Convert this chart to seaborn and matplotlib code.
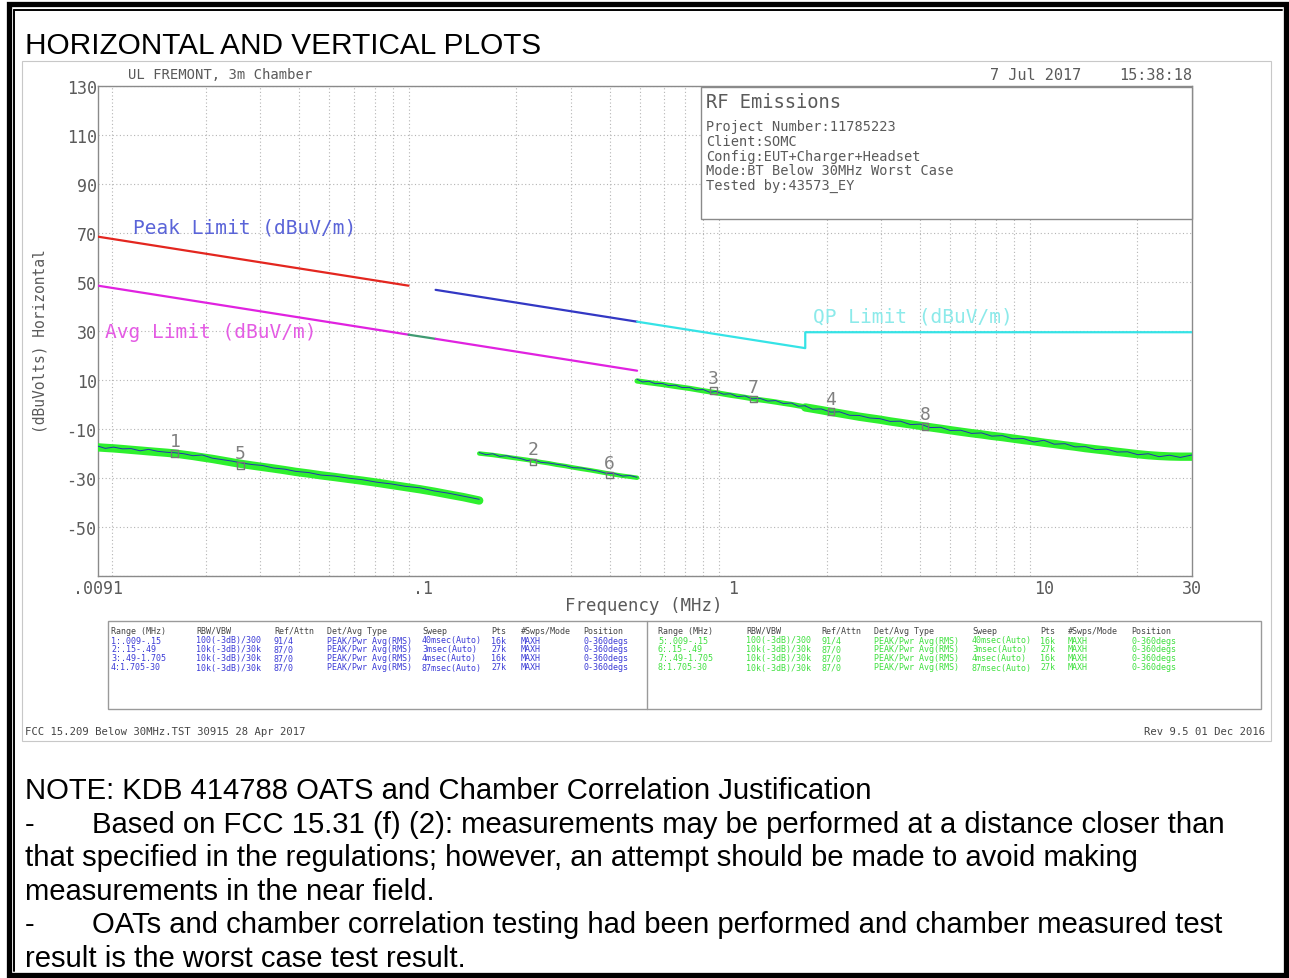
import matplotlib
matplotlib.use("Agg")
import matplotlib.pyplot as plt
import seaborn as sns
import pandas as pd
from matplotlib.patches import Rectangle
from matplotlib.lines import Line2D

# ---------------- data ----------------
# limit lines (MHz, dBuV/m)
peak_red_f = [0.009, 0.09]
peak_red_db = [68.5, 48.5]
peak_blue_f = [0.11, 0.49]
peak_blue_db = [46.8, 33.8]
avg1_f = [0.009, 0.09]
avg1_db = [48.5, 28.5]
qp_gap_f = [0.09, 0.11]
qp_gap_db = [28.5, 26.8]
avg2_f = [0.11, 0.49]
avg2_db = [26.8, 13.8]
qp_f = [0.49, 1.705, 1.705, 30.0]
qp_db = [33.8, 23.0, 29.5, 29.5]

# measured traces (green band, blue trace)
seg1_f = [0.009, 0.0095, 0.0101, 0.0108, 0.0115, 0.0123, 0.0131, 0.014, 0.015, 0.0159,
          0.017, 0.0182, 0.0195, 0.021, 0.0226, 0.0243, 0.0262, 0.0282, 0.0305, 0.033,
          0.036, 0.039, 0.043, 0.047, 0.052, 0.058, 0.064, 0.071, 0.079, 0.088,
          0.098, 0.109, 0.121, 0.135, 0.152]
seg1_green = [-17.5, -17.7, -17.9, -18.2, -18.5, -18.8, -19.1, -19.4, -19.7, -20.0,
              -20.5, -21.0, -21.6, -22.2, -22.9, -23.6, -24.3, -24.9, -25.5, -26.1,
              -26.8, -27.5, -28.2, -28.9, -29.6, -30.4, -31.1, -31.9, -32.8, -33.7,
              -34.6, -35.6, -36.7, -37.8, -39.2]
seg1_blue = [-17.0, -17.9, -17.4, -18.1, -18.0, -18.9, -18.3, -19.1, -19.5, -19.7,
             -20.1, -20.9, -20.6, -21.9, -22.5, -23.1, -23.9, -24.5, -24.9, -25.9,
             -26.4, -27.3, -27.8, -28.8, -29.2, -30.1, -30.7, -31.7, -32.4, -33.4,
             -34.0, -35.3, -36.2, -37.4, -38.7]

seg2_f = [0.152, 0.16, 0.168, 0.177, 0.186, 0.196, 0.206, 0.217, 0.2265, 0.24, 0.255,
          0.27, 0.287, 0.305, 0.325, 0.345, 0.367, 0.39, 0.415, 0.44, 0.465, 0.49]
seg2_green = [-20.0, -20.3, -20.6, -21.0, -21.4, -21.8, -22.2, -22.6, -23.0, -23.5, -24.0,
              -24.6, -25.1, -25.7, -26.3, -26.8, -27.4, -28.0, -28.6, -29.1, -29.5, -29.9]
seg2_blue = [-19.6, -20.5, -20.1, -21.2, -20.9, -21.6, -22.0, -22.9, -22.5, -23.6, -23.9,
             -24.4, -24.9, -25.8, -25.9, -26.6, -27.2, -28.1, -28.2, -29.2, -29.0, -29.7]

seg3_f = [0.49, 0.51, 0.535, 0.56, 0.59, 0.62, 0.65, 0.685, 0.72, 0.76, 0.8, 0.84, 0.88,
          0.93, 0.98, 1.03, 1.09, 1.15, 1.22, 1.29, 1.37, 1.45, 1.54, 1.62, 1.705]
seg3_green = [9.6, 9.3, 8.9, 8.6, 8.2, 7.8, 7.4, 7.0, 6.6, 6.1, 5.6, 5.2, 4.8,
              4.3, 3.8, 3.4, 2.9, 2.4, 1.9, 1.5, 1.0, 0.5, 0.0, -0.5, -1.0]
seg3_blue = [10.3, 9.2, 9.5, 8.5, 8.6, 7.7, 7.9, 6.9, 7.0, 6.0, 6.1, 5.0, 5.3,
             4.2, 4.4, 3.2, 3.5, 2.3, 2.5, 1.4, 1.6, 0.4, 0.6, -0.7, -0.5]

seg4_f = [1.705, 1.8, 1.92, 2.06, 2.2, 2.37, 2.55, 2.75, 2.97, 3.2, 3.45, 3.72, 4.0,
          4.3, 4.65, 5.0, 5.4, 5.85, 6.3, 6.8, 7.35, 7.95, 8.6, 9.3, 10.0, 10.8, 11.7,
          12.6, 13.6, 14.7, 15.9, 17.2, 18.6, 20.1, 21.7, 23.5, 25.4, 27.5, 30.0]
seg4_green = [-1.2, -1.7, -2.3, -3.0, -3.6, -4.3, -5.0, -5.6, -6.2, -6.9, -7.5, -8.1, -8.7,
              -9.3, -9.9, -10.5, -11.1, -11.7, -12.2, -12.8, -13.3, -13.9, -14.5, -15.0,
              -15.6, -16.1, -16.7, -17.2, -17.8, -18.3, -18.8, -19.3, -19.8, -20.3, -20.7,
              -21.0, -21.2, -21.3, -21.3]
seg4_blue = [-0.6, -1.9, -1.8, -3.1, -3.0, -4.4, -4.5, -5.5, -5.8, -6.9, -6.8, -8.2, -8.0,
             -9.4, -9.3, -10.6, -10.5, -11.8, -11.6, -12.9, -12.7, -14.0, -13.9, -15.3,
             -14.6, -16.2, -16.0, -17.3, -17.2, -18.4, -18.2, -19.4, -19.3, -20.5, -20.1,
             -21.3, -20.7, -21.6, -20.6]

# markers
marker_ids = ["1", "2", "3", "4", "5", "6", "7", "8"]
marker_f = [0.0159, 0.2265, 0.862, 2.06, 0.0259, 0.40, 1.16, 4.15]
marker_db = [-20.0, -23.4, 5.8, -2.8, -24.8, -28.8, 2.2, -9.0]

# axis ticks
y_grid = [-70, -50, -30, -10, 10, 30, 50, 70, 90, 110, 130]
y_labels = ["", "-50", "-30", "-10", "10", "30", "50", "70", "90", "110", "130"]
x_major = [0.009, 0.1, 1, 10, 30]
x_major_labels = [".0091", ".1", "1", "10", "30"]
x_grid = [0.01, 0.02, 0.03, 0.04, 0.05, 0.06, 0.07, 0.08, 0.09,
          0.1, 0.2, 0.3, 0.4, 0.5, 0.6, 0.7, 0.8, 0.9,
          1, 2, 3, 4, 5, 6, 7, 8, 9, 10, 20]

# settings table
table_header = ["Range (MHz)", "RBW/VBW", "Ref/Attn", "Det/Avg Type", "Sweep", "Pts",
                "#Swps/Mode", "Position"]
table_left = [
    ["1:.009-.15", "100(-3dB)/300", "91/4", "PEAK/Pwr Avg(RMS)", "40msec(Auto)", "16k", "MAXH", "0-360degs"],
    ["2:.15-.49", "10k(-3dB)/30k", "87/0", "PEAK/Pwr Avg(RMS)", "3msec(Auto)", "27k", "MAXH", "0-360degs"],
    ["3:.49-1.705", "10k(-3dB)/30k", "87/0", "PEAK/Pwr Avg(RMS)", "4msec(Auto)", "16k", "MAXH", "0-360degs"],
    ["4:1.705-30", "10k(-3dB)/30k", "87/0", "PEAK/Pwr Avg(RMS)", "87msec(Auto)", "27k", "MAXH", "0-360degs"],
]
table_right = [
    ["5:.009-.15", "100(-3dB)/300", "91/4", "PEAK/Pwr Avg(RMS)", "40msec(Auto)", "16k", "MAXH", "0-360degs"],
    ["6:.15-.49", "10k(-3dB)/30k", "87/0", "PEAK/Pwr Avg(RMS)", "3msec(Auto)", "27k", "MAXH", "0-360degs"],
    ["7:.49-1.705", "10k(-3dB)/30k", "87/0", "PEAK/Pwr Avg(RMS)", "4msec(Auto)", "16k", "MAXH", "0-360degs"],
    ["8:1.705-30", "10k(-3dB)/30k", "87/0", "PEAK/Pwr Avg(RMS)", "87msec(Auto)", "27k", "MAXH", "0-360degs"],
]

info_lines = ["Project Number:11785223", "Client:SOMC", "Config:EUT+Charger+Headset",
              "Mode:BT Below 30MHz Worst Case", "Tested by:43573_EY"]

note_lines = [
    ("", "NOTE: KDB 414788 OATS and Chamber Correlation Justification"),
    ("-", "Based on FCC 15.31 (f) (2): measurements may be performed at a distance closer than"),
    ("", "that specified in the regulations; however, an attempt should be made to avoid making"),
    ("", "measurements in the near field."),
    ("-", "OATs and chamber correlation testing had been performed and chamber measured test"),
    ("", "result is the worst case test result."),
]

# ---------------- figure ----------------
sns.set_theme(style="white")
plt.rcParams["font.family"] = ["DejaVu Sans Mono"]

W, H = 1289, 979
fig = plt.figure(figsize=(W / 100, H / 100), dpi=100)
fig.patch.set_facecolor("white")


def fx(x):
    return x / W


def fy(y):
    return 1 - y / H


GRAY = "#5a5a5a"
MONO = "DejaVu Sans Mono"
SANS = "Liberation Sans"

ax = fig.add_axes([fx(98), fy(577), (1192 - 98) / W, (577 - 87) / H])
ax.set_xscale("log")
ax.set_xlim(0.009, 30)
ax.set_ylim(-70, 130)
ax.set_facecolor("white")


def line(f, v, color, lw=1.6, z=3):
    sns.lineplot(x=f, y=v, ax=ax, color=color, lw=lw, estimator=None, sort=False,
                 zorder=z, legend=False)


# limits
line(peak_red_f, peak_red_db, "#e3261f")
line(peak_blue_f, peak_blue_db, "#3338c4")
line(avg1_f, avg1_db, "#e022e0")
line(qp_gap_f, qp_gap_db, "#3f9a72")
line(avg2_f, avg2_db, "#e022e0")
line(qp_f, qp_db, "#35e3e6")

# traces
GREEN = "#2ef02e"
BLUE = "#2233b0"
for f, g, b, w in [(seg1_f, seg1_green, seg1_blue, 6.0),
                   (seg2_f, seg2_green, seg2_blue, 3.2),
                   (seg3_f, seg3_green, seg3_blue, 3.8),
                   (seg4_f, seg4_green, seg4_blue, 6.0)]:
    line(f, g, GREEN, lw=w, z=4)
    line(f, b, BLUE, lw=0.7, z=5)

# markers
sns.scatterplot(x=marker_f, y=marker_db, ax=ax, marker="s", s=22,
                facecolor="none", edgecolor="#777777", linewidth=1.0, zorder=6, legend=False)
for mid, f, v in zip(marker_ids, marker_f, marker_db):
    ax.annotate(mid, (f, v), xytext=(0, 9), textcoords="offset points",
                ha="center", va="center", fontsize=13, color="#808080", family=MONO, zorder=7)

# limit labels
ax.text(0.01167, 72.4, "Peak Limit (dBuV/m)", color="#5a64d8", fontsize=14,
        family=MONO, va="center", ha="left", zorder=6)
ax.text(0.00947, 30.0, "Avg Limit (dBuV/m)", color="#e45ce4", fontsize=14,
        family=MONO, va="center", ha="left", zorder=6)
ax.text(1.80, 36.1, "QP Limit (dBuV/m)", color="#8ceaea", fontsize=14,
        family=MONO, va="center", ha="left", zorder=6)

# grid & ticks
ax.set_yticks(y_grid)
ax.set_yticklabels(y_labels)
ax.set_xticks(x_major)
ax.set_xticklabels(x_major_labels)
ax.set_xticks(x_grid, minor=True)
ax.xaxis.set_minor_formatter(plt.NullFormatter())
ax.grid(False)
ax.grid(True, which="minor", axis="x", color="#b4b4b4", ls=(0, (1, 2.2)), lw=0.8)
ax.grid(True, which="major", axis="y", color="#b4b4b4", ls=(0, (1, 2.2)), lw=0.8)
ax.tick_params(which="both", length=0)
ax.tick_params(axis="y", pad=1, labelsize=12, labelcolor=GRAY)
ax.tick_params(axis="x", pad=2, labelsize=12, labelcolor=GRAY)
for lab in ax.get_xticklabels() + ax.get_yticklabels():
    lab.set_family(MONO)
for s in ax.spines.values():
    s.set_color("#8a8a8a")
    s.set_linewidth(1.0)
ax.set_xlabel("")
ax.set_ylabel("")

# ---------------- figure-level decorations ----------------
fig.add_artist(Rectangle((fx(8.5), fy(975.5)), (1285.5 - 8.5) / W, (975.5 - 5) / H,
                         transform=fig.transFigure, fill=False, ec="black", lw=3.8, zorder=10))
fig.add_artist(Line2D([fx(14), fx(14)], [fy(11), fy(972)], transform=fig.transFigure,
                      color="black", lw=1.4, zorder=10))
fig.add_artist(Line2D([fx(14), fx(1282)], [fy(11), fy(11)], transform=fig.transFigure,
                      color="black", lw=1.4, zorder=10))

fig.add_artist(Rectangle((fx(22), fy(742)), (1271 - 22) / W, (742 - 62) / H,
                         transform=fig.transFigure, fill=False, ec="#c8c8c8", lw=0.8, zorder=1))

fig.text(fx(25), fy(46), "HORIZONTAL AND VERTICAL PLOTS", family=SANS, fontsize=21.4,
         color="black", va="center", ha="left")

fig.text(fx(128), fy(75), "UL FREMONT, 3m Chamber", family=MONO, fontsize=10,
         color=GRAY, va="center", ha="left")
fig.text(fx(990), fy(75), "7 Jul 2017", family=MONO, fontsize=11, color=GRAY,
         va="center", ha="left")
fig.text(fx(1192), fy(75), "15:38:18", family=MONO, fontsize=11, color=GRAY,
         va="center", ha="right")

fig.text(fx(40), fy(341), "(dBuVolts) Horizontal", family=MONO, fontsize=10.5,
         color=GRAY, rotation=90, va="center", ha="center")
fig.text(fx(644), fy(606), "Frequency (MHz)", family=MONO, fontsize=12.5,
         color=GRAY, va="center", ha="center")

# info box
fig.add_artist(Rectangle((fx(701), fy(220)), (1192 - 701) / W, (220 - 88) / H,
                         transform=fig.transFigure, fc="white", ec="#8a8a8a", lw=1.0, zorder=2))
fig.text(fx(706), fy(102), "RF Emissions", family=MONO, fontsize=13.5, color=GRAY,
         va="center", ha="left", zorder=3)
for i, t in enumerate(info_lines):
    fig.text(fx(706), fy(127 + 14.8 * i), t, family=MONO, fontsize=9.8, color=GRAY,
             va="center", ha="left", zorder=3)

# settings table
fig.add_artist(Rectangle((fx(108), fy(710)), (1261 - 108) / W, (710 - 622) / H,
                         transform=fig.transFigure, fill=False, ec="#9a9a9a", lw=1.0, zorder=2))
fig.add_artist(Line2D([fx(647), fx(647)], [fy(622), fy(710)], transform=fig.transFigure,
                      color="#9a9a9a", lw=1.0, zorder=2))
left_cols = [111, 196, 274, 327, 422, 491, 521, 583]
right_cols = [658, 746, 821, 874, 972, 1040, 1068, 1131]
row_y = [631, 641, 650, 659, 668]
for cols, rows, col in [(left_cols, table_left, "#3b3bd6"), (right_cols, table_right, "#3fe03f")]:
    for c, h in zip(cols, table_header):
        fig.text(fx(c), fy(row_y[0]), h, family=MONO, fontsize=6.0, color="#444444",
                 va="center", ha="left")
    for r, row in enumerate(rows):
        for c, v in zip(cols, row):
            fig.text(fx(c), fy(row_y[r + 1]), v, family=MONO, fontsize=6.0, color=col,
                     va="center", ha="left")

fig.text(fx(25), fy(732), "FCC 15.209 Below 30MHz.TST 30915 28 Apr 2017", family=MONO,
         fontsize=7.6, color="#444444", va="center", ha="left")
fig.text(fx(1265), fy(732), "Rev 9.5 01 Dec 2016", family=MONO, fontsize=7.6,
         color="#444444", va="center", ha="right")

# notes
NOTE_FS = 21.1
for i, (dash, t) in enumerate(note_lines):
    yy = fy(791 + 33.6 * i)
    if dash:
        fig.text(fx(25), yy, dash, family=SANS, fontsize=NOTE_FS, color="black", va="center", ha="left")
        fig.text(fx(92), yy, t, family=SANS, fontsize=NOTE_FS, color="black", va="center", ha="left")
    else:
        fig.text(fx(25), yy, t, family=SANS, fontsize=NOTE_FS, color="black", va="center", ha="left")

fig.savefig("out.png", dpi=100, facecolor="white")
